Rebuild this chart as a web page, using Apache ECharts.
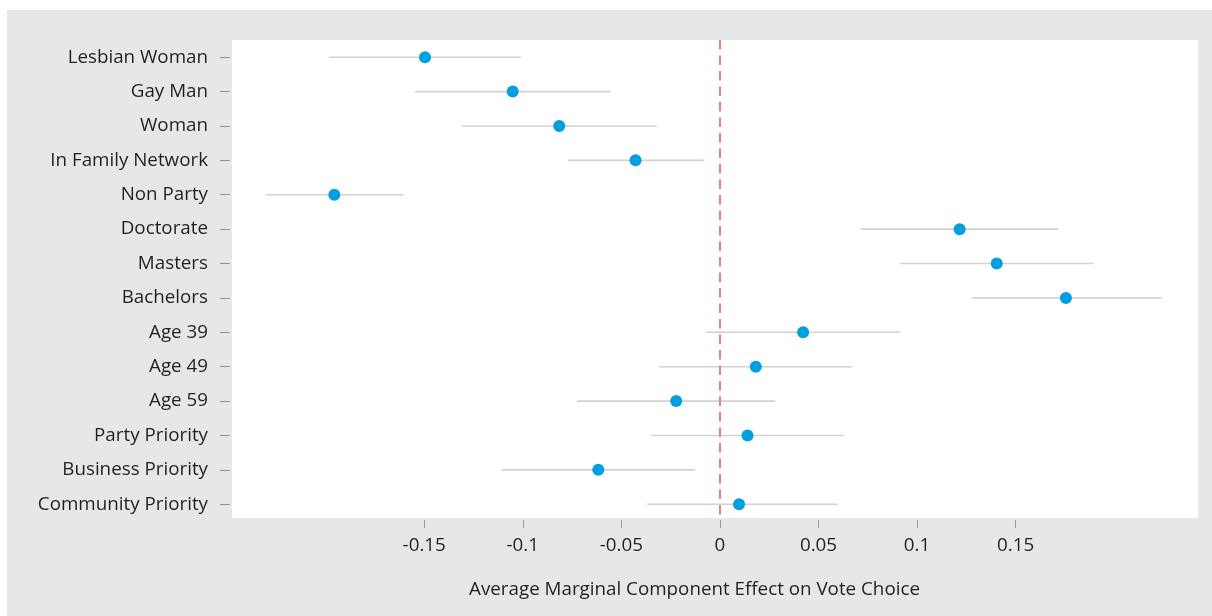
<!DOCTYPE html>
<html>
<head>
<meta charset="utf-8">
<title>Average Marginal Component Effects</title>
<script src="https://cdn.jsdelivr.net/npm/echarts@6/dist/echarts.min.js"></script>
<style>
  html, body { margin: 0; padding: 0; background: #ffffff; }
  #chart { width: 1212px; height: 616px; }
</style>
</head>
<body>
<div id="chart"></div>
<script>
// Candidate attributes, top to bottom
const categories = [
  'Lesbian Woman', 'Gay Man', 'Woman', 'In Family Network', 'Non Party',
  'Doctorate', 'Masters', 'Bachelors', 'Age 39', 'Age 49', 'Age 59',
  'Party Priority', 'Business Priority', 'Community Priority'
];
// Point estimates (AMCE)
const estimates = [
  -0.1496, -0.1051, -0.0815, -0.0428, -0.1956,
  0.1216, 0.1404, 0.1755, 0.0422, 0.0182, -0.0222,
  0.0140, -0.0617, 0.0097
];
// Lower and upper bounds of the confidence intervals
const lower = [
  -0.1983, -0.1547, -0.1307, -0.0771, -0.2304,
  0.0716, 0.0914, 0.1277, -0.0071, -0.0308, -0.0725,
  -0.0349, -0.1107, -0.0369
];
const upper = [
  -0.1008, -0.0555, -0.0321, -0.0082, -0.1604,
  0.1718, 0.1895, 0.2239, 0.0914, 0.0670, 0.0280,
  0.0628, -0.0126, 0.0596
];
// Labelled x ticks
const xTicks = [-0.15, -0.1, -0.05, 0, 0.05, 0.1, 0.15];
const xTitle = 'Average Marginal Component Effect on Vote Choice';

const FONT = '"Open Sans", "Noto Sans", sans-serif';
const FONT_SIZE = 18.8;
const TEXT = '#231f20';
const rowIdx = categories.map((_, i) => i);

const chart = echarts.init(document.getElementById('chart'), null, { renderer: 'canvas' });

chart.setOption({
  backgroundColor: '#ffffff',
  animation: false,
  graphic: [
    {
      type: 'rect', z: -10, silent: true,
      shape: { x: 7, y: 10, width: 1205, height: 606 },
      style: { fill: '#e6e7e8' }
    },
    {
      type: 'text', silent: true,
      x: 694.5, y: 590,
      style: {
        text: xTitle, fill: TEXT, font: FONT_SIZE + 'px ' + FONT,
        align: 'center', verticalAlign: 'middle'
      }
    }
  ],
  grid: {
    left: 232, right: 14, top: 40, bottom: 98,
    show: true, backgroundColor: '#ffffff', borderWidth: 0
  },
  xAxis: {
    type: 'value',
    position: 'bottom',
    min: -0.2475, max: 0.2425,
    offset: 2,
    axisLine: { show: false, onZero: false },
    splitLine: { show: false },
    axisTick: {
      show: true, length: 8, customValues: xTicks,
      lineStyle: { color: '#9b9b9b', width: 1 }
    },
    axisLabel: {
      customValues: xTicks, margin: 16,
      color: TEXT, fontFamily: FONT, fontSize: FONT_SIZE,
      formatter: v => String(Math.round(v * 100) / 100)
    }
  },
  yAxis: {
    type: 'value',
    position: 'left',
    inverse: true,
    min: -0.5, max: 13.4,
    offset: 2,
    axisLine: { show: false, onZero: false },
    splitLine: { show: false },
    axisTick: {
      show: true, length: 10, customValues: rowIdx,
      lineStyle: { color: '#8f8f8f', width: 1 }
    },
    axisLabel: {
      customValues: rowIdx, margin: 22,
      color: TEXT, fontFamily: FONT, fontSize: FONT_SIZE,
      formatter: v => categories[Math.round(v)] || ''
    }
  },
  series: [
    {
      // confidence-interval whiskers
      type: 'custom',
      z: 2,
      data: rowIdx.map(i => [lower[i], upper[i], i]),
      renderItem: (params, api) => {
        const a = api.coord([api.value(0), api.value(2)]);
        const b = api.coord([api.value(1), api.value(2)]);
        return {
          type: 'line',
          shape: { x1: a[0], y1: a[1], x2: b[0], y2: b[1] },
          style: { stroke: '#d2d2d2', lineWidth: 1.6 }
        };
      }
    },
    {
      // zero reference line
      type: 'line',
      data: [],
      z: 3,
      markLine: {
        silent: true,
        symbol: 'none',
        label: { show: false },
        lineStyle: { color: '#ee7f77', type: [9.5, 6], width: 2 },
        data: [{ xAxis: 0 }]
      }
    },
    {
      // point estimates
      type: 'scatter',
      z: 4,
      symbol: 'circle',
      symbolSize: 12,
      itemStyle: { color: '#009fdf', opacity: 1 },
      data: rowIdx.map(i => [estimates[i], i])
    }
  ]
});
</script>
</body>
</html>
